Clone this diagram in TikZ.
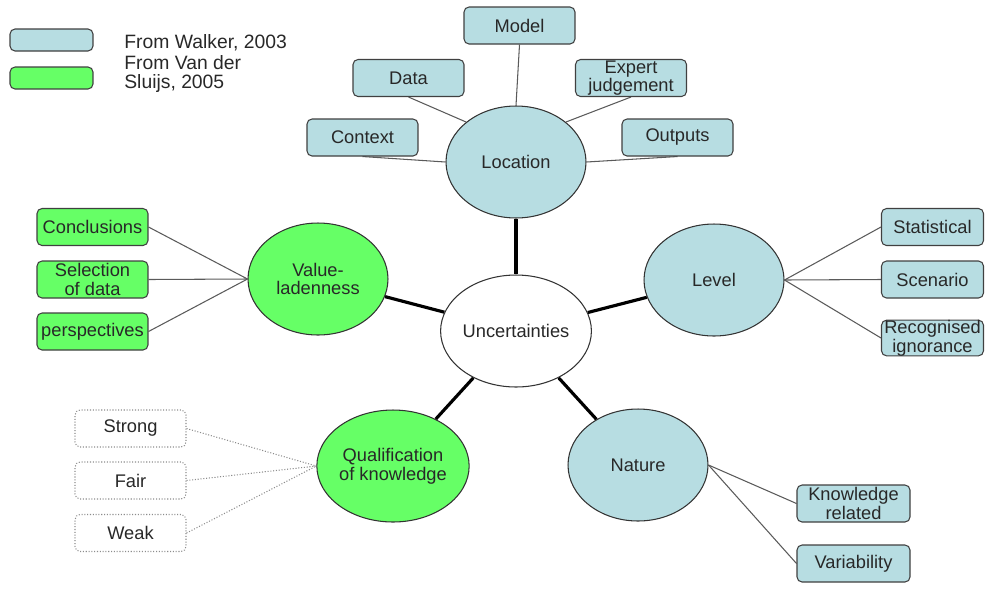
\documentclass[tikz,border=0pt]{standalone}
\usepackage{fontspec}
\setmainfont{Liberation Sans}
\usepackage{tikz}
\usetikzlibrary{shapes.geometric,positioning,backgrounds}
\usepackage{xcolor}
\definecolor{walkerblue}{RGB}{183,221,226}
\definecolor{sluijsgreen}{RGB}{102,255,102}
\definecolor{edgegray}{RGB}{90,90,90}
\definecolor{textgray}{RGB}{40,40,40}

\tikzset{
    txt/.style={font=\fontsize{10.4}{10.6}\selectfont, text=textgray, align=center},
    leaf/.style={txt, draw=black!75, rounded corners=0.1cm, minimum width=2.22cm,
        minimum height=0.74cm, inner sep=0pt, line width=0.6pt},
    walker/.style={leaf, fill=walkerblue},
    sluijs/.style={leaf, fill=sluijsgreen},
    grade/.style={leaf, fill=white, draw=black!45, densely dotted},
    hub/.style={txt, ellipse, draw=black!80, minimum width=2.8cm, minimum height=2.24cm,
        inner sep=0pt, line width=0.6pt},
    spoke/.style={edgegray, line width=0.6pt},
    trunk/.style={black, line width=1.8pt},
}

\begin{document}
\begin{tikzpicture}[x=0.02cm, y=-0.02cm]
    \useasboundingbox (0,0) rectangle (986,599);
    % Legend
    \node[walker, minimum width=1.66cm, minimum height=0.44cm] (keyw) at (51.5,40) {};
    \node[sluijs, minimum width=1.66cm, minimum height=0.44cm] (keys) at (51.5,78) {};
    \node[txt, anchor=west, inner sep=0pt, font=\fontsize{11}{10.8}\selectfont] (keywtext) at (124,43) {From Walker, 2003};
    \node[txt, anchor=west, inner sep=0pt, align=left, font=\fontsize{11}{10.8}\selectfont] (keystext) at (124,74) {From Van der\\Sluijs, 2005};
    % Hubs
    \node[hub, fill=white] (unc) at (516,331) {Uncertainties};
    \node[hub, fill=walkerblue] (loc) at (516,162) {Location};
    \node[hub, fill=sluijsgreen] (value) at (318,279) {Value-\\ladenness};
    \node[hub, fill=walkerblue] (level) at (714,280) {Level};
    \node[hub, fill=sluijsgreen] (qual) at (393,466) {Qualification\\of knowledge};
    \node[hub, fill=walkerblue] (nature) at (638,465) {Nature};
    % Location leaves
    \node[walker] (model) at (519.5,25.5) {Model};
    \node[walker] (data) at (408.5,78) {Data};
    \node[walker] (expert) at (631,78) {Expert\\judgement};
    \node[walker] (context) at (362.5,137.5) {Context};
    \node[walker] (outputs) at (677.5,137.5) {Outputs};
    % Value-ladenness leaves
    \node[sluijs] (concl) at (92.5,227) {Conclusions};
    \node[sluijs] (select) at (92.5,279.5) {Selection\\of data};
    \node[sluijs] (persp) at (92.5,331.5) {perspectives};
    % Level leaves
    \node[walker, minimum width=2.04cm] (stat) at (932.5,227) {Statistical};
    \node[walker, minimum width=2.04cm] (scen) at (932.5,279.5) {Scenario};
    \node[walker, minimum width=2.04cm, minimum height=0.68cm] (recog) at (932.5,338) {Recognised\\ignorance};
    % Qualification leaves
    \node[grade] (strong) at (130.5,428.5) {Strong};
    \node[grade] (fair) at (130.5,480.5) {Fair};
    \node[grade] (weak) at (130.5,533) {Weak};
    % Nature leaves
    \node[walker, minimum width=2.26cm] (know) at (853.5,503.5) {Knowledge\\related};
    \node[walker, minimum width=2.26cm] (vari) at (853.5,563.5) {Variability};
    \begin{scope}[on background layer]
        \foreach \h in {loc,value,level,qual,nature} {
            \draw[trunk] (unc) -- (\h);
        }
        \draw[spoke] (context.south) -- (loc.west);
        \draw[spoke] (data.south) -- (loc.north west);
        \draw[spoke] (model.south) -- (loc.north);
        \draw[spoke] (expert.south) -- (loc.north east);
        \draw[spoke] (outputs.south) -- (loc.east);
        \foreach \l in {concl,select,persp} {
            \draw[spoke] (\l.east) -- (value.west);
        }
        \foreach \l in {stat,scen,recog} {
            \draw[spoke] (level.east) -- (\l.west);
        }
        \foreach \l in {strong,fair,weak} {
            \draw[spoke, black!45, densely dotted] (\l.east) -- (qual.west);
        }
        \foreach \l in {know,vari} {
            \draw[spoke] (nature.east) -- (\l.west);
        }
    \end{scope}
\end{tikzpicture}
\end{document}
